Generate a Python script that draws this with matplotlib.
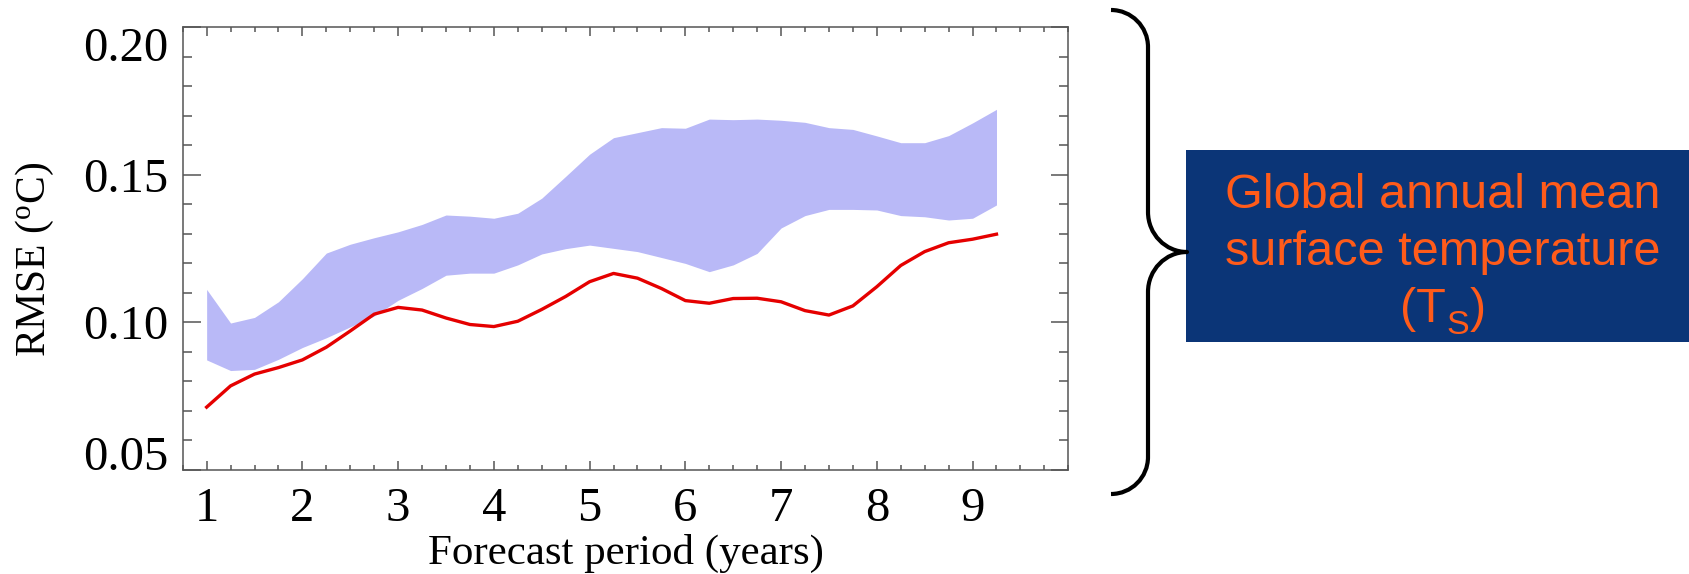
import matplotlib
matplotlib.use("Agg")
import matplotlib.pyplot as plt
from matplotlib.ticker import MultipleLocator
from matplotlib.patches import Rectangle, PathPatch
from matplotlib.path import Path

# ---------------- data ----------------
forecast_years = [1.00, 1.25, 1.50, 1.75, 2.00, 2.25, 2.50, 2.75, 3.00, 3.25,
                  3.50, 3.75, 4.00, 4.25, 4.50, 4.75, 5.00, 5.25, 5.50, 5.75,
                  6.00, 6.25, 6.50, 6.75, 7.00, 7.25, 7.50, 7.75, 8.00, 8.25,
                  8.50, 8.75, 9.00, 9.25]

rmse_forecast = [0.0713, 0.0785, 0.0825, 0.0847, 0.0873, 0.0916, 0.0971, 0.1028,
                 0.1051, 0.1042, 0.1015, 0.0993, 0.0986, 0.1004, 0.1044, 0.1088,
                 0.1138, 0.1166, 0.1150, 0.1115, 0.1074, 0.1065, 0.1081, 0.1082,
                 0.1070, 0.1040, 0.1025, 0.1056, 0.1121, 0.1193, 0.1240, 0.1270,
                 0.1282, 0.1299]

band_upper = [0.1112, 0.0998, 0.1017, 0.1070, 0.1148, 0.1235, 0.1265, 0.1287,
              0.1307, 0.1332, 0.1364, 0.1360, 0.1353, 0.1370, 0.1421, 0.1495,
              0.1570, 0.1626, 0.1643, 0.1660, 0.1658, 0.1689, 0.1687, 0.1689,
              0.1685, 0.1678, 0.1660, 0.1654, 0.1632, 0.1609, 0.1609, 0.1633,
              0.1676, 0.1722]

band_lower = [0.0873, 0.0837, 0.0841, 0.0875, 0.0915, 0.0948, 0.0985, 0.1022,
              0.1075, 0.1115, 0.1160, 0.1167, 0.1167, 0.1195, 0.1232, 0.1250,
              0.1262, 0.1251, 0.1240, 0.1220, 0.1200, 0.1172, 0.1195, 0.1234,
              0.1320, 0.1362, 0.1383, 0.1383, 0.1381, 0.1362, 0.1358, 0.1347,
              0.1353, 0.1398]

x_ticks = [1, 2, 3, 4, 5, 6, 7, 8, 9]
x_tick_labels = ["1", "2", "3", "4", "5", "6", "7", "8", "9"]
y_ticks = [0.05, 0.10, 0.15, 0.20]
y_tick_labels = ["0.05", "0.10", "0.15", "0.20"]

box_lines = ["Global annual mean", "surface temperature"]
box_last_parts = ["(T", "S", ")"]

# ---------------- style ----------------
plt.rcParams["font.family"] = ["Liberation Serif", "DejaVu Serif"]
plt.rcParams["mathtext.fontset"] = "custom"
plt.rcParams["mathtext.rm"] = "Liberation Serif"
plt.rcParams["mathtext.it"] = "Liberation Serif:italic"
plt.rcParams["mathtext.sf"] = "Liberation Sans"

W, H = 1690, 574
fig = plt.figure(figsize=(W / 100, H / 100), dpi=100)

ax_l, ax_r, ax_t, ax_b = 182.7, 1068.3, 27.3, 470.0
ax = fig.add_axes([ax_l / W, 1 - ax_b / H, (ax_r - ax_l) / W, (ax_b - ax_t) / H])

ax.fill_between(forecast_years, band_lower, band_upper, color="#B9B9F7", lw=0)
ax.plot(forecast_years, rmse_forecast, color="#E50000", lw=2.4)

ax.set_xlim(0.75, 10.0)
ax.set_ylim(0.05, 0.20)
ax.set_xticks(x_ticks)
ax.set_xticklabels(x_tick_labels)
ax.set_yticks(y_ticks)
ax.set_yticklabels(y_tick_labels)
ax.xaxis.set_minor_locator(MultipleLocator(0.25))
ax.yaxis.set_minor_locator(MultipleLocator(0.01))

axis_gray = "#555555"
ax.tick_params(which="both", direction="in", top=True, right=True,
               color=axis_gray, width=1.1)
ax.tick_params(axis="x", which="major", length=6.7, pad=12, labelsize=35)
ax.tick_params(axis="x", which="minor", length=3.6)
ax.tick_params(axis="y", which="major", length=12.6, pad=10.5, labelsize=35)
ax.tick_params(axis="y", which="minor", length=6.8)
for sp in ax.spines.values():
    sp.set_color(axis_gray)
    sp.set_linewidth(1.1)

ylabs = ax.get_yticklabels()
ylabs[0].set_verticalalignment("baseline")
ylabs[-1].set_verticalalignment("top")

ax.set_xlabel("Forecast period (years)", fontsize=31, va="baseline")
ax.xaxis.set_label_coords(0.5, (ax_b - 563.5) / (ax_b - ax_t))
ax.set_ylabel(r"RMSE ($^{\mathrm{o}}$C)", fontsize=30, va="center")
ax.yaxis.set_label_coords((35 - ax_l) / (ax_r - ax_l), 1 - (259 - ax_t) / (ax_b - ax_t))

# ---------------- annotation box ----------------
def fx(px):
    return px / W

def fy(py):
    return 1 - py / H

box_left, box_top, box_bottom = 1186, 150, 342
fig.patches.append(Rectangle((fx(box_left), fy(box_bottom)), 1 - fx(box_left),
                             (box_bottom - box_top) / H, transform=fig.transFigure,
                             facecolor="#0B3577", edgecolor="none", zorder=1))

orange = "#FF5B1A"
text_cx_px = 1443
for line, base in zip(box_lines, [208.3, 264.8]):
    fig.text(fx(text_cx_px), fy(base), line, family="Liberation Sans", fontsize=35,
             color=orange, ha="center", va="baseline", zorder=2)

# third line: "(T" + subscript "S" + ")", built from pieces
renderer = fig.canvas.get_renderer()
sizes = [35, 24.5, 35]
offsets = [0.0, 12.0, 0.0]
base3 = 322.0
pieces = []
for part, fs in zip(box_last_parts, sizes):
    t = fig.text(0, 0, part, family="Liberation Sans", fontsize=fs, color=orange,
                 ha="left", va="baseline", zorder=2)
    pieces.append(t)
widths = [t.get_window_extent(renderer).width for t in pieces]
gaps = [0.0, 1.0, 1.0]
total = sum(widths) + sum(gaps)
cur = text_cx_px - total / 2
for t, w, g, off in zip(pieces, widths, gaps, offsets):
    cur += g
    t.set_position((fx(cur), fy(base3 + off)))
    cur += w

# ---------------- curly brace ----------------
k = 0.552
bx_end, bx_v, bx_tip = 1111, 1148, 1187
y_top, y_tip, y_bot = 10, 252, 494
r1, r2 = 37, 40
pts = [
    (bx_end, y_top),
    (bx_end + k * r1, y_top), (bx_v, y_top + r1 - k * r1), (bx_v, y_top + r1),
    (bx_v, y_tip - r2),
    (bx_v, y_tip - r2 + k * r2), (bx_tip - k * (bx_tip - bx_v), y_tip), (bx_tip, y_tip),
    (bx_tip - k * (bx_tip - bx_v), y_tip), (bx_v, y_tip + r2 - k * r2), (bx_v, y_tip + r2),
    (bx_v, y_bot - r1),
    (bx_v, y_bot - r1 + k * r1), (bx_end + k * r1, y_bot), (bx_end, y_bot),
]
codes = [Path.MOVETO,
         Path.CURVE4, Path.CURVE4, Path.CURVE4,
         Path.LINETO,
         Path.CURVE4, Path.CURVE4, Path.CURVE4,
         Path.CURVE4, Path.CURVE4, Path.CURVE4,
         Path.LINETO,
         Path.CURVE4, Path.CURVE4, Path.CURVE4]
brace = Path([(fx(a), fy(b)) for a, b in pts], codes)
fig.patches.append(PathPatch(brace, transform=fig.transFigure, fill=False,
                             edgecolor="black", lw=3, joinstyle="round",
                             capstyle="butt", zorder=3))

fig.savefig("out.png", dpi=100)
